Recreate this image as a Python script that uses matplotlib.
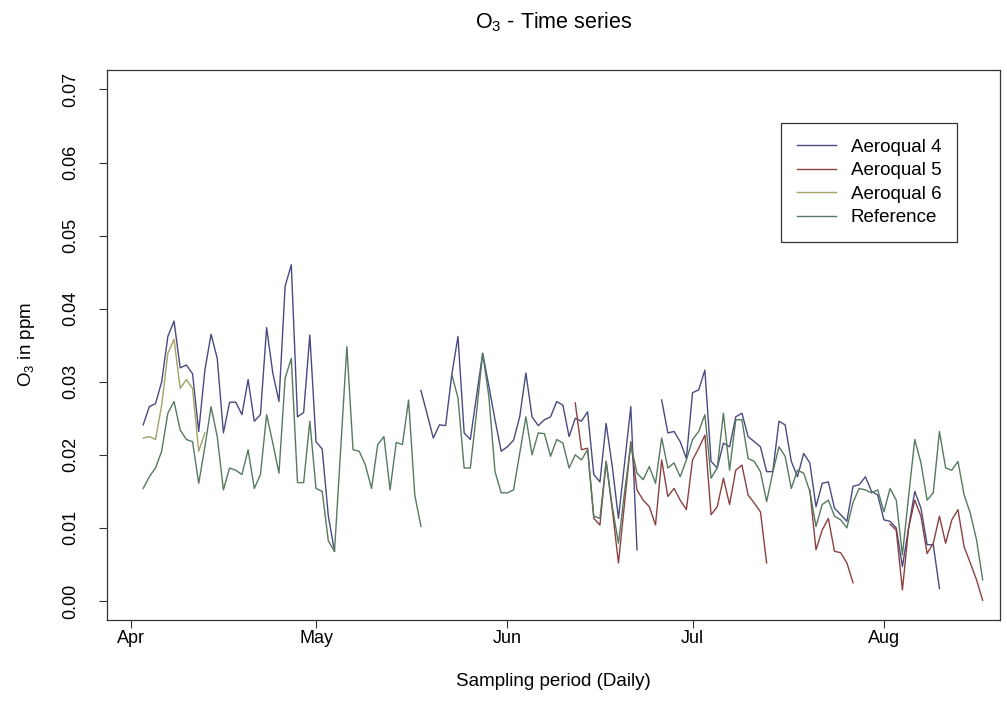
import numpy as np
import matplotlib
matplotlib.use('Agg')
import matplotlib.pyplot as plt
import matplotlib.dates as mdates

plt.rcParams['font.family'] = ['Liberation Sans', 'DejaVu Sans']
plt.rcParams['mathtext.fontset'] = 'custom'
plt.rcParams['mathtext.rm'] = 'Liberation Sans'

nan = np.nan

# daily O3 (ppm), 3 Apr .. 18 Aug
start_day = '2016-04-03'

aeroqual_4 = [
    0.0241, 0.0266, 0.0270, 0.0300, 0.0362, 0.0383, 0.0319, 0.0323, 0.0311, 0.0232,
    0.0316, 0.0365, 0.0332, 0.0230, 0.0272, 0.0272, 0.0255, 0.0303, 0.0246, 0.0255,
    0.0374, 0.0312, 0.0273, 0.0431, 0.0460, 0.0252, 0.0258, 0.0364, 0.0218, 0.0208,
    0.0116, 0.0068, nan, nan, nan, nan, nan, nan, nan, nan,
    nan, nan, nan, nan, nan, 0.0288, 0.0256, 0.0223, 0.0241, 0.0240,
    0.0310, 0.0362, 0.0230, 0.0221, 0.0280, 0.0339, 0.0294, 0.0248, 0.0205, 0.0211,
    0.0220, 0.0252, 0.0312, 0.0252, 0.0240, 0.0248, 0.0252, 0.0273, 0.0268, 0.0225,
    0.0250, 0.0246, 0.0259, 0.0173, 0.0163, 0.0243, 0.0184, 0.0113, 0.0190, 0.0266,
    0.0070, nan, nan, nan, 0.0275, 0.0230, 0.0232, 0.0218, 0.0195, 0.0285,
    0.0289, 0.0316, 0.0191, 0.0182, 0.0216, 0.0211, 0.0252, 0.0257, 0.0225, 0.0218,
    0.0211, 0.0177, 0.0177, 0.0246, 0.0241, 0.0191, 0.0170, 0.0202, 0.0189, 0.0129,
    0.0161, 0.0163, 0.0127, 0.0118, 0.0109, 0.0157, 0.0159, 0.0170, 0.0150, 0.0145,
    0.0111, 0.0109, 0.0100, 0.0047, 0.0100, 0.0150, 0.0127, 0.0077, 0.0077, 0.0017,
    nan, nan, nan, nan, nan, nan, nan,
]

aeroqual_5 = [nan] * 70 + [
    0.0271, 0.0207, 0.0209, 0.0113, 0.0104, 0.0191, 0.0125, 0.0052, 0.0135, 0.0218,
    0.0152, 0.0138, 0.0129, 0.0104, 0.0193, 0.0143, 0.0154, 0.0138, 0.0125, 0.0193,
    0.0209, 0.0227, 0.0118, 0.0129, 0.0168, 0.0132, 0.0179, 0.0186, 0.0145, 0.0134,
    0.0122, 0.0052, nan, nan, nan, nan, nan, nan, 0.0152, 0.0070,
    0.0097, 0.0113, 0.0068, 0.0066, 0.0052, 0.0025, nan, nan, nan, nan,
    nan, 0.0105, 0.0097, 0.0015, 0.0100, 0.0138, 0.0116, 0.0065, 0.0079, 0.0116,
    0.0079, 0.0111, 0.0125, 0.0074, 0.0052, 0.0029, 0.0001,
]

aeroqual_6 = [
    0.0223, 0.0225, 0.0221, 0.0268, 0.0339, 0.0358, 0.0291, 0.0303, 0.0291, 0.0205,
    0.0230,
] + [nan] * 126

reference = [
    0.0154, 0.0170, 0.0182, 0.0205, 0.0257, 0.0273, 0.0234, 0.0221, 0.0218, 0.0161,
    0.0211, 0.0266, 0.0225, 0.0152, 0.0182, 0.0179, 0.0173, 0.0207, 0.0154, 0.0173,
    0.0255, 0.0216, 0.0175, 0.0305, 0.0332, 0.0162, 0.0162, 0.0246, 0.0154, 0.0150,
    0.0082, 0.0068, 0.0208, 0.0348, 0.0207, 0.0205, 0.0186, 0.0154, 0.0214, 0.0225,
    0.0152, 0.0217, 0.0214, 0.0275, 0.0145, 0.0102, nan, nan, nan, nan,
    0.0310, 0.0278, 0.0182, 0.0182, 0.0257, 0.0339, 0.0280, 0.0177, 0.0148, 0.0148,
    0.0152, 0.0202, 0.0252, 0.0200, 0.0230, 0.0229, 0.0198, 0.0221, 0.0216, 0.0182,
    0.0200, 0.0193, 0.0207, 0.0116, 0.0113, 0.0191, 0.0129, 0.0079, 0.0150, 0.0214,
    0.0175, 0.0166, 0.0184, 0.0161, 0.0223, 0.0182, 0.0189, 0.0170, 0.0193, 0.0221,
    0.0232, 0.0255, 0.0168, 0.0182, 0.0257, 0.0179, 0.0248, 0.0248, 0.0195, 0.0191,
    0.0177, 0.0136, 0.0176, 0.0211, 0.0198, 0.0154, 0.0179, 0.0175, 0.0150, 0.0102,
    0.0132, 0.0138, 0.0116, 0.0111, 0.0100, 0.0135, 0.0154, 0.0152, 0.0148, 0.0152,
    0.0122, 0.0154, 0.0138, 0.0063, 0.0143, 0.0221, 0.0189, 0.0138, 0.0148, 0.0232,
    0.0182, 0.0179, 0.0191, 0.0145, 0.0120, 0.0084, 0.0029,
]

series_names = ['Aeroqual 4', 'Aeroqual 5', 'Aeroqual 6', 'Reference']
series_colors = ['#4a4a82', '#8c4040', '#a3a268', '#557a60']

days = np.datetime64(start_day) + np.arange(len(reference))

fig = plt.figure(figsize=(10.07, 7.23), dpi=100)
ax = fig.add_axes([0.106, 0.1425, 0.887, 0.761])

for vals, name, col in zip([aeroqual_4, aeroqual_5, aeroqual_6, reference],
                           series_names, series_colors):
    ax.plot(days, vals, color=col, lw=1.0, label=name)

apr1 = mdates.date2num(np.datetime64('2016-04-01'))
ax.set_xlim(apr1 - 3.9, apr1 + 140.8)
ax.set_ylim(-0.0026, 0.0727)

ax.xaxis.set_major_locator(mdates.MonthLocator())
ax.xaxis.set_major_formatter(mdates.DateFormatter('%b'))
ax.set_yticks(np.arange(0, 0.071, 0.01))
ax.set_yticklabels([f'{v:.2f}' for v in np.arange(0, 0.071, 0.01)],
                   rotation=90, va='center')

ax.tick_params(direction='out', length=6, width=0.8, labelsize=13, color='#333333')
ax.tick_params(axis='x', pad=1)
ax.tick_params(axis='y', pad=14)
for sp in ax.spines.values():
    sp.set_linewidth(0.9)
    sp.set_color('#333333')

ax.set_title(r'O$_\mathregular{3}$ - Time series', fontsize=15.5, pad=30)
ax.set_xlabel('Sampling period (Daily)', fontsize=13.5, labelpad=19)
ax.set_ylabel(r'O$_\mathregular{3}$ in ppm', fontsize=13.5, labelpad=18)

leg = ax.legend(loc='upper right', bbox_to_anchor=(0.952, 0.904), fontsize=13.5,
                fancybox=False, framealpha=1, edgecolor='#333333',
                handlelength=2.1, handletextpad=0.75, labelspacing=0.34,
                borderpad=0.85, borderaxespad=0)
leg.get_frame().set_linewidth(0.9)

plt.savefig('out.png', dpi=100)
